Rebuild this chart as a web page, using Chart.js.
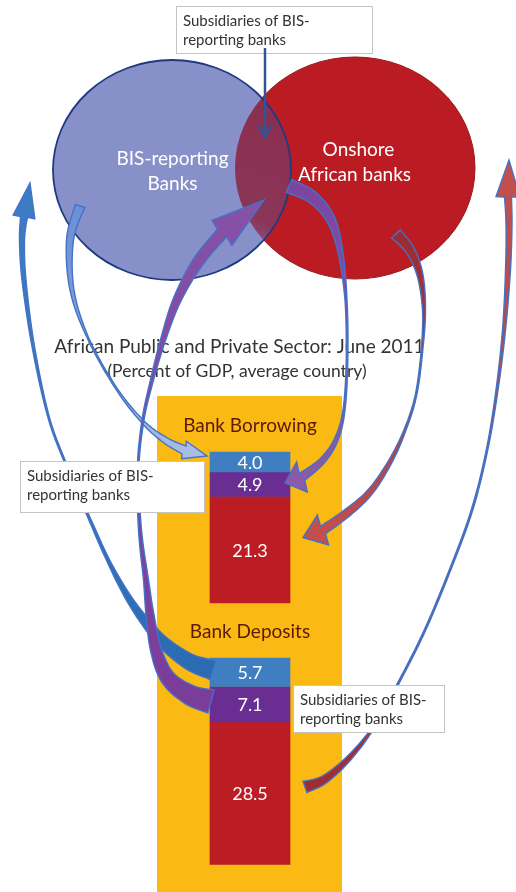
<!DOCTYPE html>
<html>
<head>
<meta charset="utf-8">
<script src="https://cdn.jsdelivr.net/npm/chart.js@4.4.0/dist/chart.umd.min.js"></script>
<style>
  html, body { margin: 0; padding: 0; background: #ffffff; }
  canvas { display: block; }
</style>
</head>
<body>
<canvas id="flows" width="516" height="892"></canvas>
<script>
// Stacks (one bar each) and the bank groups that split them, in percent of GDP
const stacks = ['Bank Borrowing', 'Bank Deposits'];
const bankGroups = ['BIS-reporting banks', 'Subsidiaries of BIS-reporting banks', 'Onshore African banks'];
const bisReporting = [4.0, 5.7];
const subsidiaries = [4.9, 7.1];
const onshoreAfrican = [21.3, 28.5];

const titleText = 'African Public and Private Sector: June 2011';
const subtitleText = '(Percent of GDP, average country)';
const circleLabels = [['BIS-reporting', 'Banks'], ['Onshore', 'African banks']];
const calloutText = ['Subsidiaries of BIS-', 'reporting banks'];

// ---- layout and style ----
const FONT = 'Lato, "Open Sans", "DejaVu Sans", sans-serif';
const f = (px) => `${px}px ${FONT}`;
const segColors = ['#3f7fc1', '#6a2d91', '#bc1c24'];
const PX_PER_UNIT = 5;                       // vertical scale: 5 px per percent of GDP
const Y_MAX = 892 / PX_PER_UNIT;
const STACK_START = [90.4, 131.6];           // where each stack begins on the value axis

const series = [bisReporting, subsidiaries, onshoreAfrican];
const running = STACK_START.slice();
const datasets = series.map((vals, k) => ({
  label: bankGroups[k],
  data: vals.map((v, i) => {
    const s = running[i];
    running[i] += v;
    return { x: 0, y: [s, s + v] };
  }),
  backgroundColor: segColors[k],
  borderWidth: 0,
  barThickness: 80,
  grouped: false
}));

// ---- drawing helpers ----
function sampleSpline(pts, n) {
  const out = [];
  const P = [pts[0], ...pts, pts[pts.length - 1]];
  for (let i = 1; i < P.length - 2; i++) {
    const p0 = P[i - 1], p1 = P[i], p2 = P[i + 1], p3 = P[i + 2];
    for (let j = 0; j < n; j++) {
      const t = j / n, t2 = t * t, t3 = t2 * t;
      const cr = (a, b, c, d) => 0.5 * ((2 * b) + (-a + c) * t + (2 * a - 5 * b + 4 * c - d) * t2 + (-a + 3 * b - 3 * c + d) * t3);
      out.push({
        x: cr(p0[0], p1[0], p2[0], p3[0]),
        y: cr(p0[1], p1[1], p2[1], p3[1]),
        w: p1[2] + (p2[2] - p1[2]) * t
      });
    }
  }
  const last = pts[pts.length - 1];
  out.push({ x: last[0], y: last[1], w: last[2] });
  return out;
}

// Curved block arrow: a tapered band along a spline, ending in a triangular head
function blockArrow(ctx, pts, tip, headW, fills) {
  const s = sampleSpline(pts, 12);
  const left = [], right = [];
  for (let i = 0; i < s.length; i++) {
    const a = s[Math.max(0, i - 1)], b = s[Math.min(s.length - 1, i + 1)];
    const dx = b.x - a.x, dy = b.y - a.y, len = Math.hypot(dx, dy) || 1;
    const nx = -dy / len, ny = dx / len, h = s[i].w / 2;
    left.push([s[i].x + nx * h, s[i].y + ny * h]);
    right.push([s[i].x - nx * h, s[i].y - ny * h]);
  }
  const end = s[s.length - 1];
  const dx = tip[0] - end.x, dy = tip[1] - end.y, len = Math.hypot(dx, dy) || 1;
  const nx = -dy / len, ny = dx / len, hh = headW / 2;
  ctx.beginPath();
  ctx.moveTo(left[0][0], left[0][1]);
  left.forEach(p => ctx.lineTo(p[0], p[1]));
  ctx.lineTo(end.x + nx * hh, end.y + ny * hh);
  ctx.lineTo(tip[0], tip[1]);
  ctx.lineTo(end.x - nx * hh, end.y - ny * hh);
  for (let i = right.length - 1; i >= 0; i--) ctx.lineTo(right[i][0], right[i][1]);
  ctx.closePath();
  const g = ctx.createLinearGradient(pts[0][0], pts[0][1], tip[0], tip[1]);
  g.addColorStop(0, fills[0]);
  g.addColorStop(1, fills[1]);
  ctx.fillStyle = g;
  ctx.fill();
  ctx.strokeStyle = '#4472c4';
  ctx.lineWidth = 1.4;
  ctx.lineJoin = 'miter';
  ctx.miterLimit = 4;
  ctx.stroke();
}

function callout(ctx, x, y, w, h) {
  ctx.save();
  ctx.fillStyle = '#ffffff';
  ctx.fillRect(x, y, w, h);
  ctx.strokeStyle = '#c4c4c4';
  ctx.lineWidth = 1;
  ctx.strokeRect(x + 0.5, y + 0.5, w - 1, h - 1);
  ctx.fillStyle = '#333333';
  ctx.font = f(15);
  ctx.textAlign = 'left';
  ctx.textBaseline = 'alphabetic';
  ctx.fillText(calloutText[0], x + 7, y + 20);
  ctx.fillText(calloutText[1], x + 7, y + 39);
  ctx.restore();
}

function ellipsePath(ctx, cx, cy, rx, ry) {
  ctx.beginPath();
  ctx.ellipse(cx, cy, rx, ry, 0, 0, Math.PI * 2);
}

// bar segment geometry from the chart elements
function seg(chart, k, i) {
  const el = chart.getDatasetMeta(k).data[i];
  const top = Math.min(el.y, el.base), bottom = Math.max(el.y, el.base);
  return { left: el.x - el.width / 2, right: el.x + el.width / 2, top, bottom, cx: el.x, cy: (top + bottom) / 2 };
}

const scenery = {
  id: 'scenery',
  beforeDraw(chart) {
    const ctx = chart.ctx;
    ctx.save();
    ctx.fillStyle = '#ffffff';
    ctx.fillRect(0, 0, chart.width, chart.height);

    // two overlapping bank circles
    const L = [172, 170, 119, 110], R = [355, 168, 120, 111];
    ellipsePath(ctx, ...R);
    ctx.fillStyle = '#bb1c24';
    ctx.fill();
    ctx.strokeStyle = '#94191e';
    ctx.lineWidth = 1;
    ctx.stroke();
    ellipsePath(ctx, ...L);
    ctx.fillStyle = '#8890c9';
    ctx.fill();
    ctx.save();
    ellipsePath(ctx, ...L);
    ctx.clip();
    ellipsePath(ctx, ...R);
    const og = ctx.createLinearGradient(290, 130, 245, 250);
    og.addColorStop(0, '#8b2f50');
    og.addColorStop(0.75, '#8a3658');
    og.addColorStop(1, '#8a5c8e');
    ctx.fillStyle = og;
    ctx.fill();
    ctx.restore();
    ellipsePath(ctx, ...L);
    ctx.strokeStyle = '#1f3a80';
    ctx.lineWidth = 1.8;
    ctx.stroke();

    ctx.fillStyle = '#ffffff';
    ctx.font = f(19);
    ctx.textAlign = 'center';
    ctx.textBaseline = 'alphabetic';
    ctx.fillText(circleLabels[0][0], 172.5, 165);
    ctx.fillText(circleLabels[0][1], 172.5, 190);
    ctx.fillText(circleLabels[1][0], 358.5, 156);
    ctx.fillText(circleLabels[1][1], 354.5, 181);

    // titles
    ctx.fillStyle = '#333333';
    ctx.font = f(19);
    ctx.fillText(titleText, 239.5, 353);
    ctx.font = f(17.5);
    ctx.fillText(subtitleText, 237, 377);

    // orange panel behind the stacks
    ctx.fillStyle = '#fbb913';
    ctx.fillRect(157, 396, 185, 496);

    // stack titles above each bar
    ctx.fillStyle = '#5c1a08';
    ctx.font = f(19);
    stacks.forEach((name, i) => {
      const s = seg(chart, 0, i);
      ctx.fillText(name, s.cx, s.top - 20);
    });
    ctx.restore();
  },
  afterDatasetsDraw(chart) {
    const ctx = chart.ctx;
    ctx.save();

    // values inside the segments
    ctx.fillStyle = '#ffffff';
    ctx.font = f(18);
    ctx.textAlign = 'center';
    ctx.textBaseline = 'middle';
    series.forEach((vals, k) => vals.forEach((v, i) => {
      const s = seg(chart, k, i);
      ctx.fillText(v.toFixed(1), s.cx, s.cy + 1);
    }));

    const bB = seg(chart, 0, 0), pB = seg(chart, 1, 0), rB = seg(chart, 2, 0);
    const bD = seg(chart, 0, 1), pD = seg(chart, 1, 1), rD = seg(chart, 2, 1);

    // BIS-reporting deposits -> BIS-reporting banks
    blockArrow(ctx, [[bD.left + 3, bD.top + 12, 20], [190, 662, 16], [165, 644, 12], [147, 624, 9], [128, 597, 6],
      [108, 560, 3], [87, 513, 2], [65, 462, 1.5], [48, 415, 1.5], [33, 345, 2.5], [24, 280, 4], [22, 240, 5], [24, 217, 7]],
      [30, 183], 22, ['#2a6bb2', '#3d7dc6']);
    // BIS-reporting banks -> borrowing
    blockArrow(ctx, [[80, 206, 10], [70, 240, 7], [72, 290, 4], [88, 338, 1.5], [116, 388, 1.5], [143, 422, 3], [165, 440, 6], [184, 450, 9]],
      [bB.left - 3, bB.top + 4], 18, ['#6b8fd6', '#aabfe7']);
    // subsidiaries deposits -> subsidiaries
    blockArrow(ctx, [[pD.left + 1, pD.top + 15, 24], [190, 695, 20], [168, 678, 15], [156, 650, 11], [150, 615, 8], [146, 580, 5],
      [140, 530, 3], [138, 470, 1.5], [143, 420, 2], [152, 380, 3], [163, 340, 5], [177, 300, 8], [198, 262, 11], [222, 233, 12]],
      [264, 200], 32, ['#7a3d9a', '#8751a7']);
    // subsidiaries -> borrowing
    blockArrow(ctx, [[289, 186, 14], [312, 197, 12], [330, 218, 9], [340, 250, 5], [346, 300, 2], [347, 360, 1.5], [344, 410, 2],
      [336, 440, 4], [322, 461, 6], [302, 477, 9]],
      [pB.right - 5, pB.top + 11], 32, ['#7a46a2', '#8a5aab']);
    // onshore banks -> borrowing
    blockArrow(ctx, [[396, 234, 12], [410, 250, 9], [420, 275, 6], [424, 310, 3], [422, 350, 1.5], [416, 395, 1.5], [405, 430, 2],
      [390, 462, 4], [370, 492, 6], [347, 513, 8], [323, 530, 9]],
      [rB.right + 13, rB.top + 41], 32, ['#9b2b34', '#c4504e']);
    // onshore deposits -> onshore banks
    blockArrow(ctx, [[rD.right + 15, rD.top + 65, 12], [325, 779, 8], [350, 757, 5], [375, 725, 2], [400, 680, 1.5], [425, 630, 1.5],
      [450, 570, 1.5], [472, 510, 1.5], [487, 450, 1.5], [497, 390, 2], [504, 330, 3], [508, 270, 5], [509, 225, 6], [508, 197, 7]],
      [509, 160], 24, ['#9e2c35', '#c4504e']);

    // callouts
    callout(ctx, 176, 6, 197, 48);
    callout(ctx, 20, 461, 185, 52);
    callout(ctx, 293, 685, 152, 48);

    // pointer from the top callout into the overlap
    ctx.strokeStyle = '#2f5597';
    ctx.lineWidth = 2.5;
    ctx.lineCap = 'butt';
    ctx.lineJoin = 'miter';
    ctx.beginPath();
    ctx.moveTo(265, 48);
    ctx.lineTo(265, 137);
    ctx.stroke();
    ctx.beginPath();
    ctx.moveTo(258, 125);
    ctx.lineTo(265, 137);
    ctx.lineTo(272, 125);
    ctx.stroke();
    ctx.restore();
  }
};

function build() {
  new Chart(document.getElementById('flows'), {
    type: 'bar',
    data: { datasets },
    options: {
      responsive: false,
      animation: false,
      events: [],
      layout: { padding: { left: 0, right: 16, top: 0, bottom: 0 } },
      scales: {
        x: { type: 'linear', min: -1, max: 1, offset: false, display: false },
        y: { type: 'linear', min: 0, max: Y_MAX, reverse: true, display: false }
      },
      plugins: { legend: { display: false }, tooltip: { enabled: false } }
    },
    plugins: [scenery]
  });
}

const fontLoads = [15, 17.5, 18, 19].map(s => document.fonts.load(f(s), 'Ab0'));
Promise.race([Promise.all(fontLoads), new Promise(r => setTimeout(r, 800))]).then(build, build);
</script>
</body>
</html>
